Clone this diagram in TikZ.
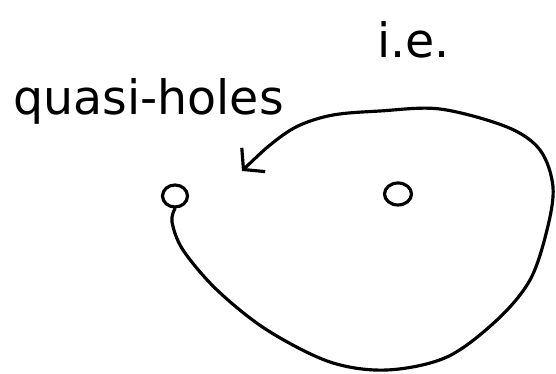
\documentclass[tikz,border=0pt]{standalone}
\usepackage{fontspec}
\setmainfont{DejaVu Sans}
\usetikzlibrary{arrows.meta, shapes.geometric}

\begin{document}
\begin{tikzpicture}[x=0.02cm, y=-0.02cm]
    \tikzset{
        schleife/.style={line width=1.8pt, line cap=round, line join=round},
        loch/.style={draw, ellipse, line width=1.8pt, inner sep=0pt},
        schrift/.style={font=\fontsize{27}{32}\selectfont, inner sep=0pt}
    }
    \useasboundingbox (0,0) rectangle (556,374);

    % Beschriftung
    \node[schrift, anchor=base west] (quasi) at (13,115) {quasi-holes};
    \node[schrift, anchor=base west] (ie) at (377,58) {i.e.};

    % Loecher
    \node[loch, minimum width=0.5cm, minimum height=0.44cm] (lochA) at (175,196) {};
    \node[loch, minimum width=0.54cm, minimum height=0.44cm] (lochB) at (398,194) {};

    \coordinate (spitze) at (242,171);

    % Schleife um das rechte Loch
    \draw[schleife, -{Straight Barb[length=8pt, width=19pt]}] plot[smooth, tension=0.55] coordinates {
        (lochA.south) (172,222) (183,250) (217,290) (267,330) (330,362) (387,370)
        (447,357) (497,320) (530,280) (547,230) (553,187) (540,150) (507,127)
        (440,109) (380,111) (333,115) (298,126) (270,145) (spitze)};
\end{tikzpicture}
\end{document}
